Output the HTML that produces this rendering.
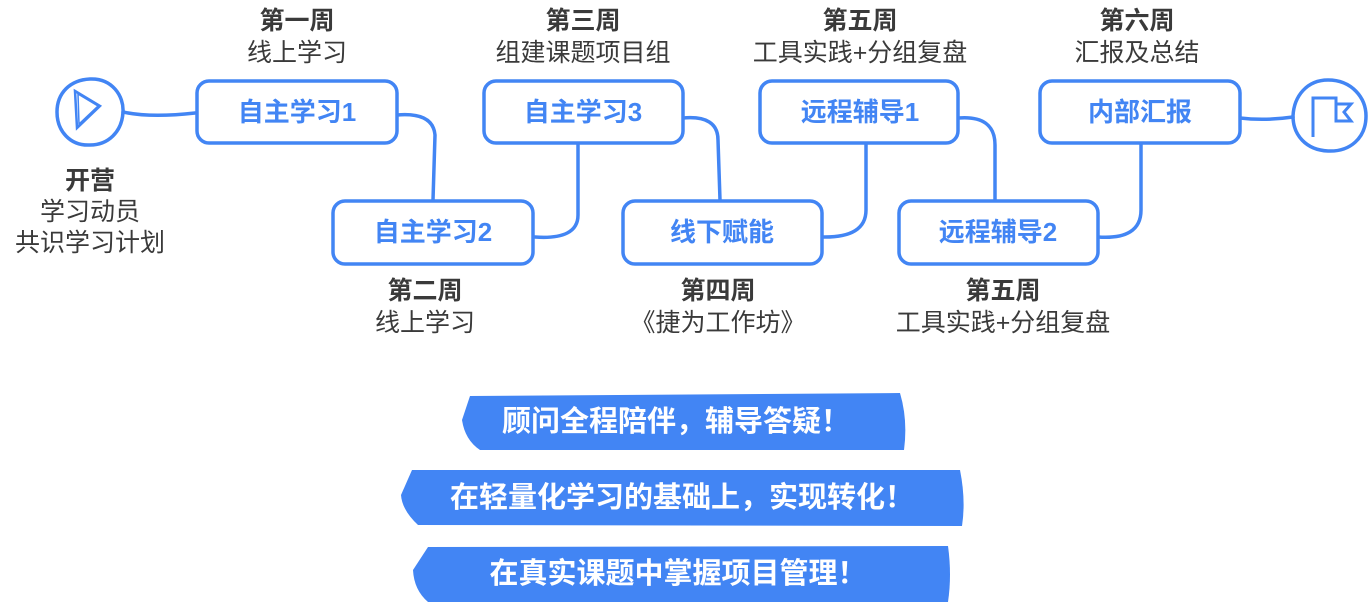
<!DOCTYPE html>
<html><head><meta charset="utf-8"><style>
html,body{margin:0;padding:0;background:#fff;}
svg{display:block;}
text{font-family:"Liberation Sans","Noto Sans CJK SC",sans-serif;}
.t{fill:#3a3a3a;font-size:25px;text-anchor:middle;}
.b{font-weight:bold;}
.bx{fill:#fff;stroke:#4285f4;stroke-width:3.5;}
.ln{fill:none;stroke:#4285f4;stroke-width:3.5;stroke-linecap:round;}
.bt{fill:#4285f4;font-size:26px;font-weight:bold;text-anchor:middle;}
.wt{fill:#fff;font-size:29px;font-weight:bold;text-anchor:middle;}
</style></head><body>
<svg width="1369" height="607" viewBox="0 0 1369 607" xmlns="http://www.w3.org/2000/svg">
<path class="ln" d="M123 112 Q150 118 195 113"/>
<path class="ln" d="M397 115 Q433 112 435 135 L433 200"/>
<path class="ln" d="M535 237 Q578 240 578 215 L578 143"/>
<path class="ln" d="M683 118 Q718 115 718 140 L720 200"/>
<path class="ln" d="M822 237 Q866 238 866 210 L866 143"/>
<path class="ln" d="M958 118 Q995 115 995 145 L995 200"/>
<path class="ln" d="M1098 237 Q1141 240 1141 210 L1141 143"/>
<path class="ln" d="M1240 118 Q1265 121 1293 117"/>
<path class="ln" d="M90 79 C112 78 124 96 123 112 C122 132 108 145 90 145 C70 146 57 131 57 112 C57 93 70 80 90 79 Z"/>
<path d="M75 91 L100 106 L77 128 Z" fill="none" stroke="#4285f4" stroke-width="2.5"/>
<path d="M78 94 L98 106 L79 124 Z" fill="none" stroke="#4285f4" stroke-width="1.5"/>
<path class="ln" d="M1328 80 C1352 80 1366 98 1366 116 C1366 138 1350 152 1328 151 C1306 150 1293 135 1293 116 C1294 96 1307 80 1328 80 Z"/>
<path d="M1313 137 L1313 98 L1336 98 L1336 121 L1351 121 L1344 112 L1351 104 L1336 104" fill="none" stroke="#4285f4" stroke-width="3"/>
<rect class="bx" x="197" y="81" width="200" height="62" rx="12"/>
<rect class="bx" x="333" y="201" width="200" height="63" rx="12"/>
<rect class="bx" x="484" y="81" width="199" height="62" rx="12"/>
<rect class="bx" x="623" y="201" width="199" height="63" rx="12"/>
<rect class="bx" x="760" y="81" width="198" height="62" rx="12"/>
<rect class="bx" x="899" y="201" width="199" height="63" rx="12"/>
<rect class="bx" x="1040" y="81" width="200" height="62" rx="12"/>
<text class="bt" x="297" y="121">自主学习1</text>
<text class="bt" x="433" y="241">自主学习2</text>
<text class="bt" x="583" y="121">自主学习3</text>
<text class="bt" x="722" y="241">线下赋能</text>
<text class="bt" x="860" y="121">远程辅导1</text>
<text class="bt" x="998" y="241">远程辅导2</text>
<text class="bt" x="1140" y="121">内部汇报</text>
<text class="t b" x="297" y="29">第一周</text><text class="t" x="297" y="61">线上学习</text>
<text class="t b" x="583" y="29">第三周</text><text class="t" x="583" y="61">组建课题项目组</text>
<text class="t b" x="860" y="29">第五周</text><text class="t" x="860" y="61">工具实践+分组复盘</text>
<text class="t b" x="1137" y="29">第六周</text><text class="t" x="1137" y="61">汇报及总结</text>
<text class="t b" x="425" y="299">第二周</text><text class="t" x="425" y="331">线上学习</text>
<text class="t b" x="718" y="299">第四周</text><text class="t" x="718" y="331">《捷为工作坊》</text>
<text class="t b" x="1003" y="299">第五周</text><text class="t" x="1003" y="331">工具实践+分组复盘</text>
<text class="t b" x="90" y="189">开营</text><text class="t" x="90" y="220">学习动员</text><text class="t" x="90" y="251">共识学习计划</text>
<path d="M470 396 L900 393 Q908 420 904 450 L480 450 Q465 440 462 420 Z" fill="#4285f4"/>
<path d="M412 470 L960 470 Q966 500 962 526 L418 525 Q402 510 401 495 Z" fill="#4285f4"/>
<path d="M428 547 L948 546 Q952 575 948 602 L428 602 Q414 590 413 570 Z" fill="#4285f4"/>
<text class="wt" x="676" y="431">顾问全程陪伴，辅导答疑！</text>
<text class="wt" x="682" y="507">在轻量化学习的基础上，实现转化！</text>
<text class="wt" x="678" y="583">在真实课题中掌握项目管理！</text>
</svg>
</body></html>
